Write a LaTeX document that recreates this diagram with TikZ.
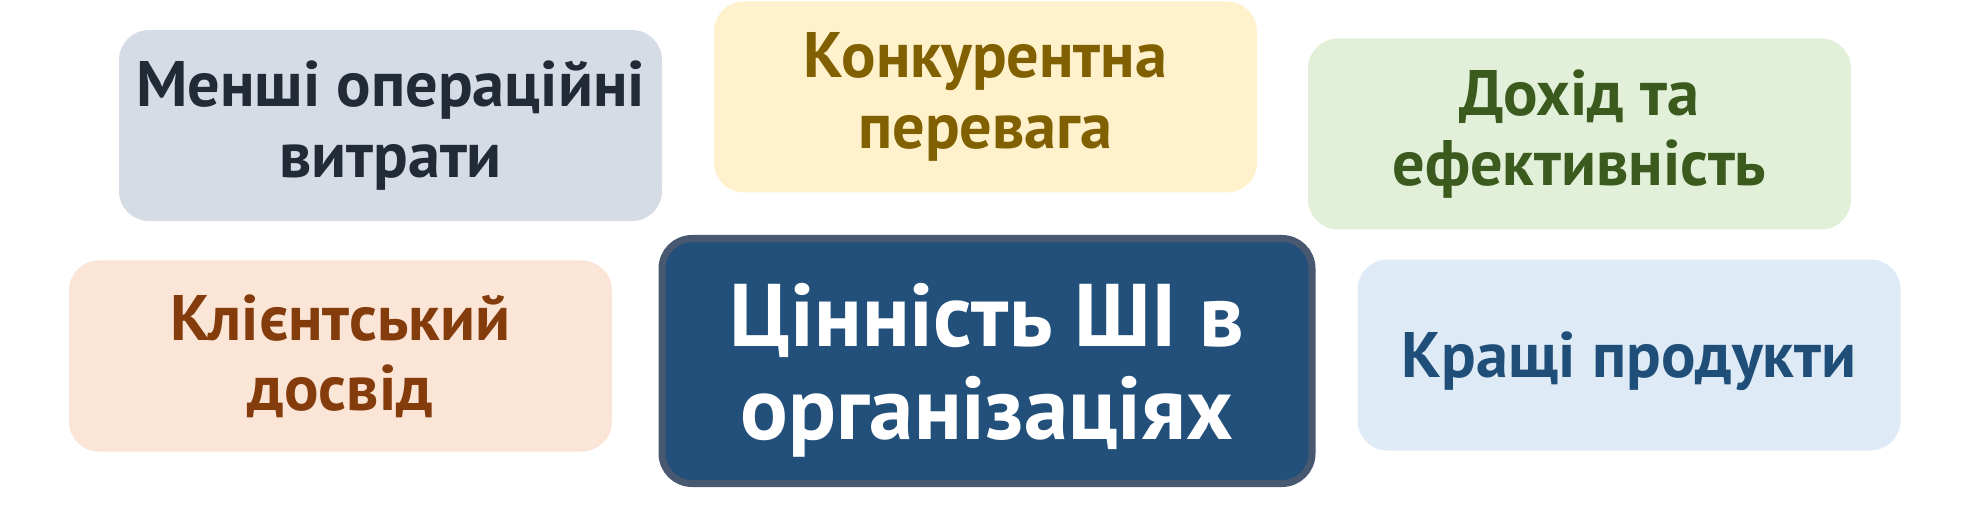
\documentclass[tikz,border=0pt]{standalone}
\usepackage{fontspec}
\setmainfont{PT Sans}
\usepackage{xcolor}

\definecolor{costfill}{HTML}{D6DCE5}
\definecolor{costtext}{HTML}{222A35}
\definecolor{edgefill}{HTML}{FEF1CB}
\definecolor{edgetext}{HTML}{806000}
\definecolor{incomefill}{HTML}{E2F0D9}
\definecolor{incometext}{HTML}{3B5A1E}
\definecolor{clientfill}{HTML}{FBE5D6}
\definecolor{clienttext}{HTML}{843C0C}
\definecolor{productfill}{HTML}{DEEBF7}
\definecolor{producttext}{HTML}{1F4E79}
\definecolor{valuefill}{HTML}{22507B}
\definecolor{valueedge}{HTML}{485870}

\tikzset{
  benefit/.style={rounded corners=0.3cm, minimum width=5.43cm, minimum height=1.91cm,
    align=center, font=\fontsize{18.3}{20}\selectfont\bfseries, inner sep=0pt},
  valuebox/.style={draw=valueedge, line width=0.07cm, fill=valuefill, text=white,
    rounded corners=0.3cm, minimum width=6.5cm, minimum height=2.45cm,
    align=center, font=\fontsize{25.3}{26.5}\selectfont\bfseries, inner sep=0pt,
    text depth=0pt}
}

\begin{document}
\begin{tikzpicture}
                    \useasboundingbox (0,0) rectangle (19.69,5.28);

                    \node[benefit, fill=costfill, text=costtext] (costs) at (3.905,4.025)
                        {Менші операційні\\витрати};
                    \node[benefit, fill=edgefill, text=edgetext] (edge) at (9.855,4.31)
                        {Конкурентна\\перевага};
                    \node[benefit, fill=incomefill, text=incometext] (income) at (15.795,3.94)
                        {Дохід та\\ефективність};
                    \node[benefit, fill=clientfill, text=clienttext] (client) at (3.405,1.72)
                        {Клієнтський\\досвід};
                    \node[benefit, fill=productfill, text=producttext, text depth=0pt] (products) at (16.29,1.73)
                        {Кращі продукти};

                    \node[valuebox] (value) at (9.87,1.67)
                        {Цінність ШІ в\\організаціях};
                \end{tikzpicture}
\end{document}
